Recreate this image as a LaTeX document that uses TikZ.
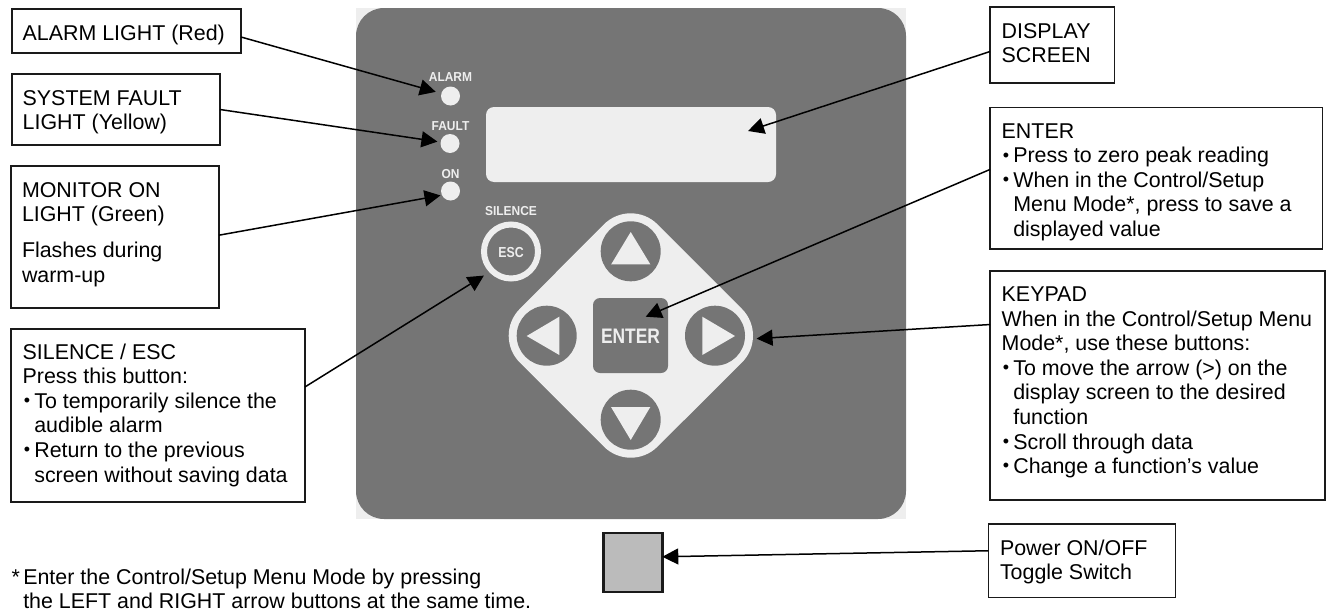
\documentclass[tikz,border=0pt]{standalone}
\usepackage{fontspec}
\setmainfont{Liberation Sans}
\usetikzlibrary{arrows.meta}
\definecolor{panelgrey}{HTML}{757575}
\definecolor{lightgrey}{HTML}{EEEEEE}
\definecolor{togglegrey}{HTML}{BBBBBB}
\definecolor{inkdark}{HTML}{1A1A1A}
\newcommand{\bul}{\makebox[11.6pt][l]{\kern1.2pt\raisebox{1.6pt}{\fontsize{18}{18}\selectfont •}}}
\newcommand{\cont}{\hspace*{11.6pt}}
\newcommand{\st}{\rule{0pt}{20pt}}
\newcommand{\narrowtxt}[1]{\scalebox{.92}[1]{\textbf{#1}}}
\tikzset{
  calloutbox/.style={draw=inkdark,line width=1.5pt,fill=white,inner sep=0pt,outer sep=0pt},
  calltext/.style={anchor=north west,inner sep=0pt,outer sep=0pt,align=left,text=black,font=\fontsize{21.4}{24.55}\selectfont},
  arrowline/.style={draw=black,line width=1.5pt,-{Triangle[length=16pt,width=16pt]}},
  led/.style={circle,fill=lightgrey,minimum size=19pt,inner sep=0pt,outer sep=0pt},
  keybtn/.style={circle,fill=panelgrey,minimum size=60pt,inner sep=0pt,outer sep=0pt},
  paneltext/.style={anchor=base,inner sep=0pt,text=lightgrey,font=\fontsize{13}{13}\selectfont},
  tri/.style={fill=lightgrey},
}
\begin{document}
\begin{tikzpicture}[x=1pt,y=-1pt]
\useasboundingbox (0,0) rectangle (1327,613);
% panel
\fill[lightgrey] (356,8) rectangle (906,519);
\fill[panelgrey,rounded corners=28pt] (356,8) rectangle (906,519);
% lights
\node[led] (ledalarm) at (450.5,96) {};
\node[led] (ledfault) at (450,143.5) {};
\node[led] (ledon) at (450.5,191) {};
\node[paneltext] (talarm) at (450.5,81) {\narrowtxt{ALARM}};
\node[paneltext] (tfault) at (450.5,130) {\narrowtxt{FAULT}};
\node[paneltext] (ton) at (450.5,178.3) {\narrowtxt{ON}};
% display
\node[fill=lightgrey,rounded corners=8pt,minimum width=290pt,minimum height=75pt,inner sep=0pt,outer sep=0pt] (screen) at (631,144.5) {};
% silence
\node[paneltext] (tsilence) at (511,215) {\narrowtxt{SILENCE}};
\node[circle,draw=lightgrey,line width=6pt,fill=panelgrey,minimum size=54pt,inner sep=0pt,outer sep=0pt] (esc) at (511,251.5) {};
\node[paneltext,font=\fontsize{14.5}{14.5}\selectfont] (tesc) at (511,257.3) {\scalebox{.92}[1]{\narrowtxt{ESC}}};
% keypad
\draw[lightgrey,fill=lightgrey,line width=76pt,line join=round] (630.7,251.3) -- (715,335.7) -- (630.7,419.7) -- (546.7,335.7) -- cycle;
\node[keybtn] (upkey) at (630.7,251.3) {};
\node[keybtn] (dnkey) at (630.7,419.7) {};
\node[keybtn] (ltkey) at (546.7,335.7) {};
\node[keybtn] (rtkey) at (715,335.7) {};
\fill[tri] (630.7,232) -- (650.3,264.3) -- (611.2,264.3) -- cycle;
\fill[tri] (630.7,440) -- (650.3,407) -- (611,407) -- cycle;
\fill[tri] (526.7,336) -- (559.3,316.7) -- (559.3,355) -- cycle;
\fill[tri] (735,336) -- (702.3,316.7) -- (702.3,355) -- cycle;
\node[fill=panelgrey,rounded corners=7pt,minimum size=75pt,inner sep=0pt,outer sep=0pt] (enterkey) at (630.5,335.5) {};
\node[paneltext,font=\fontsize{21}{21}\selectfont] (tenter) at (630.5,343.3) {\scalebox{.9}[1]{\narrowtxt{ENTER}}};
% toggle
\node[draw=inkdark,line width=2.5pt,fill=togglegrey,minimum size=59pt,inner sep=0pt,outer sep=0pt] (toggle) at (632.8,562.5) {};
% boxes
\node[calloutbox,minimum width=229pt,minimum height=44pt] (balarm) at (126.5,31) {};
\node[calloutbox,minimum width=208pt,minimum height=71pt] (bfault) at (116,109.5) {};
\node[calloutbox,minimum width=208pt,minimum height=142pt] (bmon) at (115,237) {};
\node[calloutbox,minimum width=294pt,minimum height=173pt,line width=2pt] (bsil) at (158,415.5) {};
\node[calloutbox,minimum width=124.7pt,minimum height=76.3pt] (bdisp) at (1052.3,45) {};
\node[calloutbox,minimum width=332.7pt,minimum height=141.7pt] (bent) at (1156.3,178.2) {};
\node[calloutbox,minimum width=335pt,minimum height=229pt] (bkey) at (1157.5,385.5) {};
\node[calloutbox,minimum width=187.4pt,minimum height=73.3pt] (bpow) at (1082,560.6) {};
% box texts
\node[calltext] (xalarm) at (22.7,20) {\st ALARM LIGHT (Red)};
\node[calltext] (xfault) at (22.7,85) {\st SYSTEM FAULT\\LIGHT (Yellow)};
\node[calltext] (xmon) at (22,177.3) {\st MONITOR ON\\LIGHT (Green)\\[11.5pt]Flashes during\\warm-up};
\node[calltext] (xsil) at (22.7,339.3) {\st SILENCE / ESC\\Press this button:\\\bul To temporarily silence the\\\cont audible alarm\\\bul Return to the previous\\\cont screen without saving data};
\node[calltext] (xdisp) at (1001.7,18.3) {\st DISPLAY\\SCREEN};
\node[calltext] (xent) at (1001.7,118.3) {\st ENTER\\\bul Press to zero peak reading\\\bul When in the Control/Setup\\\cont Menu Mode*, press to save a\\\cont displayed value};
\node[calltext] (xkey) at (1001.7,281.7) {\st KEYPAD\\When in the Control/Setup Menu\\Mode*, use these buttons:\\\bul To move the arrow (>) on the\\\cont display screen to the desired\\\cont function\\\bul Scroll through data\\\bul Change a function’s value};
\node[calltext] (xpow) at (1000,535) {\st Power ON/OFF\\Toggle Switch};
\node[calltext] (xnote) at (11.7,564.2) {\st *\kern3.3pt Enter the Control/Setup Menu Mode by pressing\\\hspace*{11.6pt}the LEFT and RIGHT arrow buttons at the same time.};
% free ends inside the panel
\coordinate (tipscreen) at (748,131);
\coordinate (tipenter) at (645.7,316.7);
% connectors
\draw[arrowline,shorten >=5.8pt] (balarm.-3.5) -- (ledalarm);
\draw[arrowline,shorten >=3.2pt] (bfault.east) -- (ledfault);
\draw[arrowline,shorten >=1.5pt] (bmon.1.65) -- (ledon.206);
\draw[arrowline,shorten >=9.5pt] (bsil.11.7) -- (esc.225);
\draw[arrowline] (bdisp.186.1) -- (tipscreen);
\draw[arrowline] (bent.177.9) -- (tipenter);
\draw[arrowline,shorten >=11.8pt] (bkey.160.8) -- (rtkey.-7);
\draw[arrowline] (bpow.174.8) -- (toggle.11.7);
\end{tikzpicture}
\end{document}
